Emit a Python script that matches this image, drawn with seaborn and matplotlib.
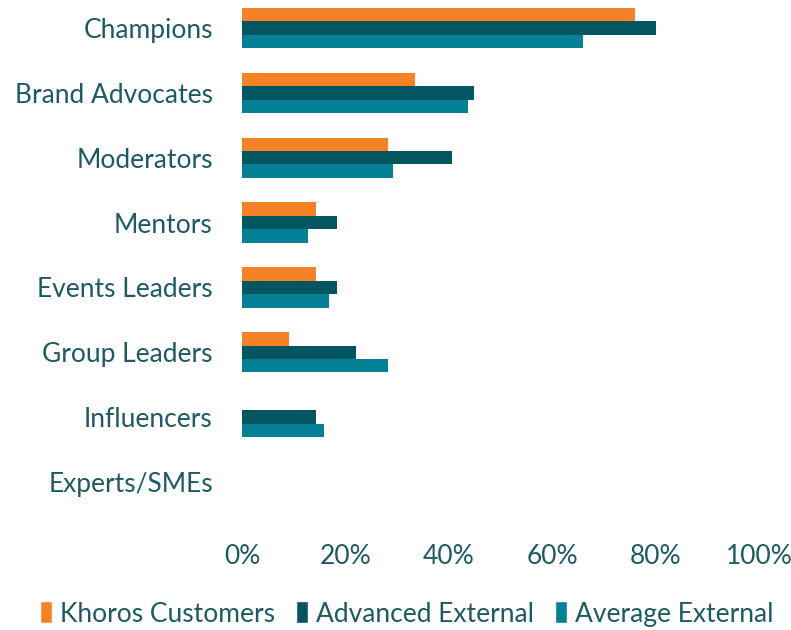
import pandas as pd
import seaborn as sns
import matplotlib.pyplot as plt
from matplotlib.patches import Patch

# categories and series (share of communities, 0-1)
categorias = ["Champions", "Brand Advocates", "Moderators", "Mentors",
              "Events Leaders", "Group Leaders", "Influencers", "Experts/SMEs"]
khoros = [0.76, 0.335, 0.283, 0.144, 0.144, 0.091, 0.0, 0.0]
avanzado = [0.80, 0.448, 0.407, 0.184, 0.184, 0.221, 0.144, 0.0]
promedio = [0.659, 0.438, 0.293, 0.128, 0.169, 0.283, 0.159, 0.0]
series = ["Khoros Customers", "Advanced External", "Average External"]
colores = ["#F58227", "#03565F", "#058196"]
ticks_x = [0, 0.2, 0.4, 0.6, 0.8, 1.0]
etiquetas_x = ["0%", "20%", "40%", "60%", "80%", "100%"]

texto = "#1E5A63"

df = pd.DataFrame({"categoria": categorias * 3,
                   "valor": khoros + avanzado + promedio,
                   "serie": [s for s in series for _ in categorias]})

sns.set_style("white")
plt.rcParams["font.family"] = ["Lato", "DejaVu Sans"]

fig = plt.figure(figsize=(7.91, 6.3), dpi=100)
ax = fig.add_axes([242 / 791, 1 - 514.4 / 630, 517 / 791, 514.4 / 630])

sns.barplot(data=df, y="categoria", x="valor", hue="serie", order=categorias,
            hue_order=series, palette=colores, saturation=1, width=0.62,
            linewidth=0, orient="h", ax=ax, legend=False)

ax.set_xlim(0, 1)
ax.set_ylim(7.5, -0.432)
ax.set_xticks(ticks_x)
ax.set_xticklabels(etiquetas_x)
ax.set_xlabel("")
ax.set_ylabel("")
ax.tick_params(axis="both", length=0, labelsize=19, labelcolor=texto)
ax.tick_params(axis="y", pad=21)
ax.tick_params(axis="x", pad=21)
sns.despine(ax=ax, left=True, bottom=True)

handles = [Patch(facecolor=c, label=s) for c, s in zip(colores, series)]
fig.legend(handles=handles, loc="center", bbox_to_anchor=(407 / 791, 1 - 614 / 630),
           ncol=3, frameon=False, fontsize=19, labelcolor=texto,
           handlelength=0.45, handleheight=0.9, handletextpad=0.3, columnspacing=0.8)

fig.savefig("out.png", dpi=100)
